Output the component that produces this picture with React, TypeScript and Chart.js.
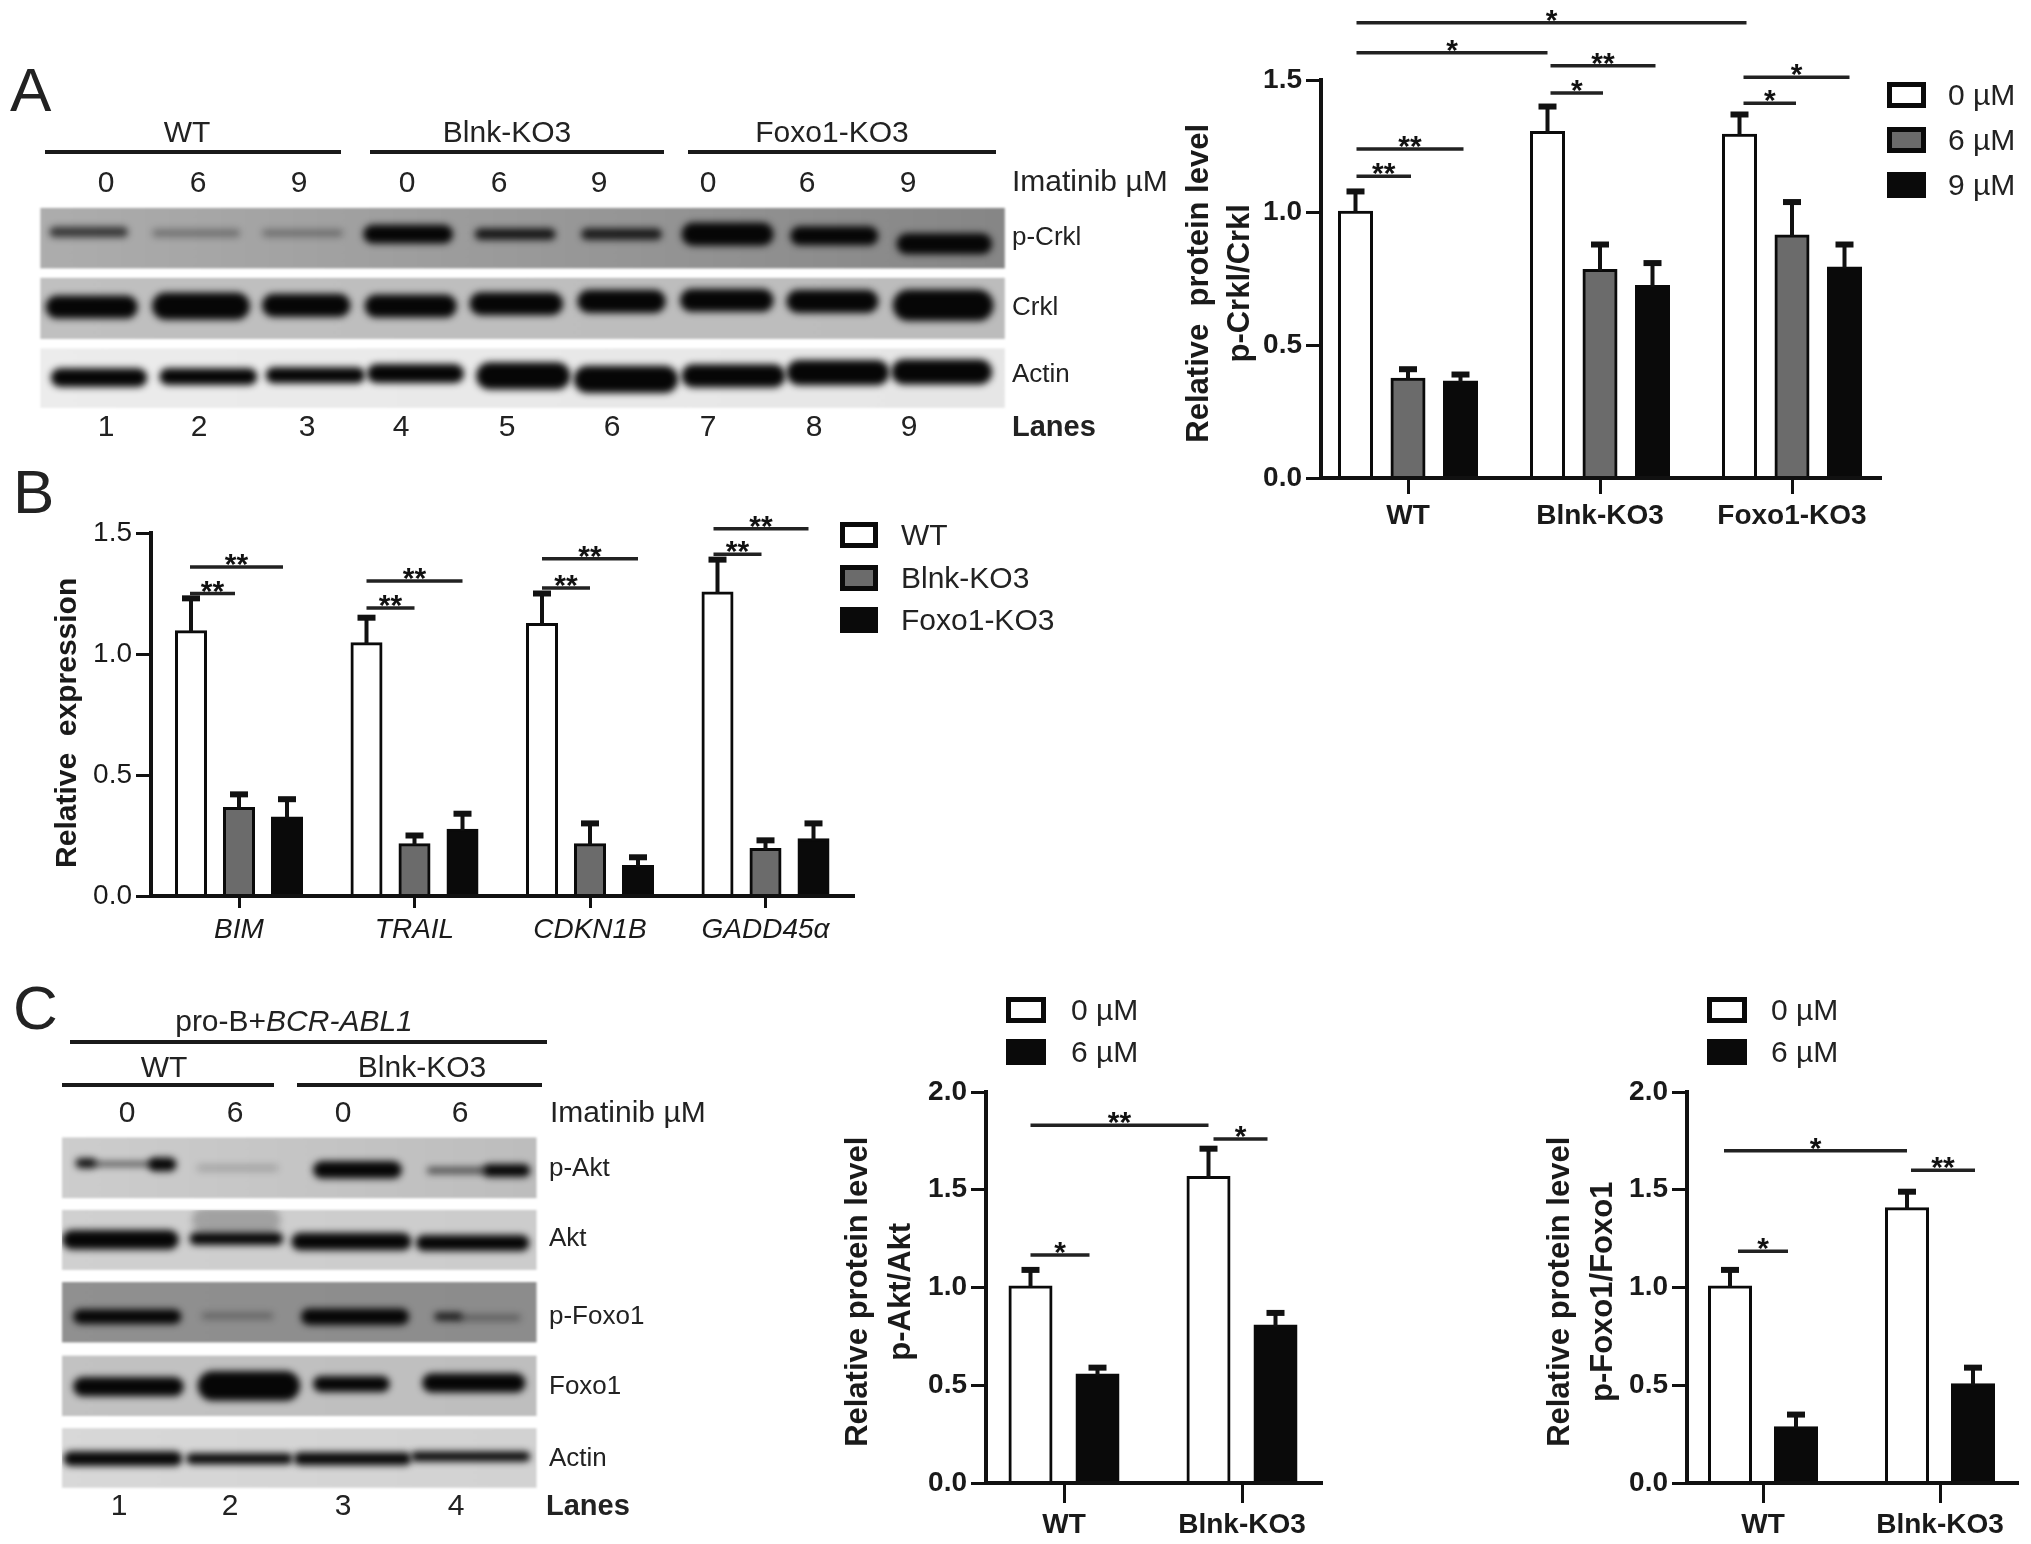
import React, { useEffect, useRef } from "react";
import { Chart, registerables } from "chart.js";

Chart.register(...registerables);

const FONT = '"Liberation Sans", Arial, sans-serif';
Chart.defaults.font.family = FONT;

// ---------- Panel A chart data ----------
const aCategories = ["WT", "Blnk-KO3", "Foxo1-KO3"];
const aDoses = ["0 µM", "6 µM", "9 µM"];
const aValues0 = [1.0, 1.3, 1.29];
const aValues6 = [0.37, 0.78, 0.91];
const aValues9 = [0.36, 0.72, 0.79];
const aErrors0 = [0.08, 0.1, 0.08];
const aErrors6 = [0.04, 0.1, 0.13];
const aErrors9 = [0.03, 0.09, 0.09];
const aBrackets: [number, number, number, number, number, string][] = [
  [0, 0, 2, 0, 1.716, "*"],
  [0, 0, 1, 0, 1.603, "*"],
  [1, 0, 1, 2, 1.554, "**"],
  [1, 0, 1, 1, 1.451, "*"],
  [2, 0, 2, 2, 1.51, "*"],
  [2, 0, 2, 1, 1.412, "*"],
  [0, 0, 0, 2, 1.24, "**"],
  [0, 0, 0, 1, 1.137, "**"],
];
const aBracketStart = [1, 1, 3, 3, 4, 4, 1, 1];
const aBracketEnd = [-7, 0, -3, -3, -5, -4, -3, -3];

// ---------- Panel B chart data ----------
const bCategories = ["BIM", "TRAIL", "CDKN1B", "GADD45α"];
const bGroups = ["WT", "Blnk-KO3", "Foxo1-KO3"];
const bValuesWT = [1.09, 1.04, 1.12, 1.25];
const bValuesBlnk = [0.36, 0.21, 0.21, 0.19];
const bValuesFoxo = [0.32, 0.27, 0.12, 0.23];
const bErrorsWT = [0.14, 0.11, 0.13, 0.14];
const bErrorsBlnk = [0.06, 0.04, 0.09, 0.04];
const bErrorsFoxo = [0.08, 0.07, 0.04, 0.07];
const bBrackets: [number, number, number, number, number, string][] = [
  [0, 0, 0, 2, 1.36, "**"],
  [0, 0, 0, 1, 1.25, "**"],
  [1, 0, 1, 2, 1.302, "**"],
  [1, 0, 1, 1, 1.19, "**"],
  [2, 0, 2, 2, 1.394, "**"],
  [2, 0, 2, 1, 1.273, "**"],
  [3, 0, 3, 2, 1.518, "**"],
  [3, 0, 3, 1, 1.412, "**"],
];
const bBracketStart = [-1, -1, 0, 0, 0, 0, -4, -4];
const bBracketEnd = [4, 4, 0, 0, 0, 0, 5, 4];

// ---------- Panel C chart data ----------
const cCategories = ["WT", "Blnk-KO3"];
const cDoses = ["0 µM", "6 µM"];
const c1Values0 = [1.0, 1.56];
const c1Values6 = [0.55, 0.8];
const c1Errors0 = [0.09, 0.15];
const c1Errors6 = [0.04, 0.07];
const c1Brackets: [number, number, number, number, number, string][] = [
  [0, 0, 1, 0, 1.83, "**"],
  [1, 0, 1, 1, 1.76, "*"],
  [0, 0, 0, 1, 1.166, "*"],
];
const c1BracketStart = [0, 5, 0];
const c1BracketEnd = [0, 8, 8];
const c2Values0 = [1.0, 1.4];
const c2Values6 = [0.28, 0.5];
const c2Errors0 = [0.09, 0.09];
const c2Errors6 = [0.07, 0.09];
const c2Brackets: [number, number, number, number, number, string][] = [
  [0, 0, 1, 0, 1.7, "*"],
  [1, 0, 1, 1, 1.6, "**"],
  [0, 0, 0, 1, 1.185, "*"],
];
const c2BracketStart = [-6, 4, 8];
const c2BracketEnd = [0, -2, 8];

const WHITE = "#ffffff";
const GRAY = "#6b6b6b";
const BLACK = "#0a0a0a";
const INK = "#111111";

type PanelProps = {
  categories: string[];
  seriesNames: string[];
  series: number[][];
  errors: number[][];
  colors: string[];
  brackets: [number, number, number, number, number, string][];
  bracketStart: number[];
  bracketEnd: number[];
  yMax: number;
  titleLines: string[];
  titleSize: number;
  titleX: number;
  titleLineHeight: number;
  axisX: number;
  rightX: number;
  topY: number;
  zeroY: number;
  firstTickX: number;
  tickStepX: number;
  barSpacing: number;
  barWidth: number;
  tickBold: boolean;
  catItalic: boolean;
  catBold: boolean;
  canvasTop: number;
  xTick: number;
};

function BarPanel(p: PanelProps) {
  const ref = useRef<HTMLCanvasElement>(null);
  const lh = p.titleLineHeight;
  const left = Math.round(p.titleX - lh / 2);
  const width = p.rightX + 4 - left;
  const height = p.zeroY + 60 - p.canvasTop;

  useEffect(() => {
    const overlay = {
      id: "overlay",
      afterDatasetsDraw(chart: any) {
        const ctx = chart.ctx;
        const yS = chart.scales.y;
        ctx.save();
        ctx.strokeStyle = INK;
        p.series.forEach((vals, s) => {
          const meta = chart.getDatasetMeta(s);
          vals.forEach((v, i) => {
            const x = meta.data[i].x;
            const y0 = yS.getPixelForValue(v);
            const y1 = yS.getPixelForValue(v + p.errors[s][i]);
            ctx.lineWidth = 4;
            ctx.beginPath();
            ctx.moveTo(x, y0);
            ctx.lineTo(x, y1);
            ctx.stroke();
            ctx.lineWidth = 6;
            ctx.beginPath();
            ctx.moveTo(x - 9, y1);
            ctx.lineTo(x + 9, y1);
            ctx.stroke();
          });
        });
        p.brackets.forEach(([g1, s1, g2, s2, val, label], k) => {
          const xa = chart.getDatasetMeta(s1).data[g1].x + p.bracketStart[k];
          const xb = chart.getDatasetMeta(s2).data[g2].x - p.bracketEnd[k];
          const y = yS.getPixelForValue(val);
          ctx.strokeStyle = "#222222";
          ctx.lineWidth = 3.5;
          ctx.beginPath();
          ctx.moveTo(xa, y);
          ctx.lineTo(xb, y);
          ctx.stroke();
          ctx.fillStyle = INK;
          ctx.font = `bold 30px ${FONT}`;
          ctx.textAlign = "center";
          ctx.textBaseline = "alphabetic";
          ctx.fillText(label, (xa + xb) / 2, y + 7);
        });
        ctx.restore();
      },
    };

    const chart = new Chart(ref.current as HTMLCanvasElement, {
      type: "bar",
      data: {
        datasets: p.series.map((vals, s) => ({
          label: p.seriesNames[s],
          data: vals.map((v, i) => ({ x: i, y: v })),
          backgroundColor: p.colors[s],
          borderColor: BLACK,
          borderWidth: 3,
          inflateAmount: 2,
          borderSkipped: "bottom",
          categoryPercentage: (p.series.length * p.barSpacing) / p.tickStepX,
          barPercentage: (p.barWidth - 4) / p.barSpacing,
        })),
      },
      plugins: [overlay],
      options: {
        animation: false,
        responsive: false,
        maintainAspectRatio: false,
        devicePixelRatio: 1,
        layout: { padding: { top: p.topY - p.canvasTop, right: 4, left: 0, bottom: 0 } },
        plugins: { legend: { display: false }, tooltip: { enabled: false }, title: { display: false } },
        scales: {
          x: {
            type: "linear",
            offset: false,
            min: (p.axisX - p.firstTickX) / p.tickStepX,
            max: (p.rightX - p.firstTickX) / p.tickStepX,
            afterBuildTicks(scale: any) {
              scale.ticks = p.categories.map((_, i) => ({ value: i }));
            },
            afterFit(scale: any) {
              scale.height = 60;
            },
            grid: {
              display: true,
              offset: false,
              drawOnChartArea: false,
              drawTicks: true,
              tickLength: p.xTick,
              tickWidth: 3,
              color: INK,
            },
            border: { display: true, color: INK, width: 4, z: 1 },
            ticks: {
              autoSkip: false,
              maxRotation: 0,
              minRotation: 0,
              padding: 5,
              color: "#1a1a1a",
              font: {
                size: 28,
                style: p.catItalic ? "italic" : "normal",
                weight: p.catBold ? "bold" : "normal",
              },
              callback: (v: any) => p.categories[v],
            },
          },
          y: {
            type: "linear",
            min: 0,
            max: p.yMax,
            afterFit(scale: any) {
              scale.width = p.axisX - left;
            },
            grid: {
              display: true,
              drawOnChartArea: false,
              drawTicks: true,
              tickLength: 15,
              tickWidth: 3,
              color: INK,
            },
            border: { display: true, color: INK, width: 4 },
            title: {
              display: true,
              text: p.titleLines,
              color: "#1a1a1a",
              padding: 0,
              font: { size: p.titleSize, weight: "bold", lineHeight: lh / p.titleSize },
            },
            ticks: {
              stepSize: 0.5,
              padding: 4,
              color: "#1a1a1a",
              font: { size: 28, weight: p.tickBold ? "bold" : "normal" },
              callback: (v: any) => Number(v).toFixed(1),
            },
          },
        },
      } as any,
    });
    return () => chart.destroy();
  }, []);

  return (
    <canvas
      ref={ref}
      width={width}
      height={height}
      style={{ position: "absolute", left, top: p.canvasTop, width, height }}
    />
  );
}

// ---------- Blot images: each strip is [x0, y0, x1, y1, left gray, right gray] ----------
// each band is [x0, x1, y centre, thickness, darkness], in the strip's own grid
type Strip = [number, number, number, number, string, string];
type Band = [number, number, number, number, number];

const aStrips: Strip[] = [
  [55, 470, 1370, 650, "#adadad", "#868686"],
  [55, 678, 1370, 860, "#c0c0c0", "#bcbcbc"],
  [55, 888, 1370, 1065, "#ececec", "#e6e6e6"],
];
const aBands: Band[] = [
  [70, 172, 542, 25, 0.7], [210, 325, 545, 20, 0.32], [360, 465, 545, 18, 0.32],
  [498, 615, 548, 45, 1], [650, 755, 548, 28, 0.88], [795, 900, 548, 28, 0.85],
  [932, 1052, 548, 55, 1], [1080, 1195, 553, 45, 1], [1225, 1350, 577, 50, 1],
  [65, 185, 765, 55, 1], [210, 338, 762, 65, 1], [360, 475, 760, 55, 1],
  [500, 620, 762, 55, 1], [643, 765, 755, 55, 1], [790, 905, 748, 55, 1],
  [930, 1052, 745, 55, 1], [1075, 1195, 748, 55, 1], [1220, 1352, 760, 75, 1],
  [72, 198, 975, 45, 1], [220, 348, 972, 40, 1], [365, 495, 968, 38, 1],
  [503, 630, 963, 45, 1], [652, 775, 970, 65, 1], [785, 922, 980, 65, 1],
  [932, 1068, 970, 55, 1], [1075, 1210, 960, 60, 1], [1218, 1350, 958, 60, 1],
];
const cStrips: Strip[] = [
  [128, 455, 1107, 620, "#cdcdcd", "#bdbdbd"],
  [128, 652, 1107, 815, "#d0d0d0", "#cccccc"],
  [128, 848, 1107, 1012, "#909090", "#8c8c8c"],
  [128, 1048, 1107, 1212, "#c2c2c2", "#bebebe"],
  [128, 1245, 1107, 1407, "#d8d8d8", "#d2d2d2"],
];
const cBands: Band[] = [
  [160, 195, 525, 22, 0.95], [195, 320, 527, 10, 0.7], [310, 360, 528, 30, 1],
  [410, 570, 538, 15, 0.18], [650, 825, 543, 38, 1], [885, 1000, 545, 15, 0.6], [1000, 1090, 545, 28, 1],
  [400, 575, 680, 55, 0.22],
  [132, 365, 733, 42, 1], [395, 580, 730, 28, 1], [605, 845, 738, 38, 1], [862, 1088, 742, 35, 1],
  [155, 370, 942, 32, 1], [420, 560, 940, 15, 0.3], [625, 840, 942, 36, 1], [900, 950, 942, 18, 0.85], [950, 1070, 945, 14, 0.35],
  [155, 375, 1132, 42, 1], [412, 615, 1130, 65, 1], [650, 800, 1125, 35, 1], [875, 1080, 1122, 42, 1],
  [135, 372, 1328, 32, 1], [388, 600, 1328, 24, 1], [610, 845, 1328, 28, 1], [852, 1090, 1322, 22, 1],
];

// header rules of the blots: [x0, x1, y]
const aRules = [[45, 341, 152], [370, 664, 152], [688, 996, 152]];
const cRules = [[70, 547, 1042], [62, 274, 1085], [297, 542, 1085]];

function Blots() {
  const ref = useRef<HTMLCanvasElement>(null);
  useEffect(() => {
    const ctx = (ref.current as HTMLCanvasElement).getContext("2d") as CanvasRenderingContext2D;
    const draw = (strips: Strip[], bands: Band[], sx: number, sy: number, oy: number) => {
      strips.forEach(([x0, y0, x1, y1, c0, c1]) => {
        const X0 = x0 * sx, X1 = x1 * sx, Y0 = oy + y0 * sy, Y1 = oy + y1 * sy;
        const g = ctx.createLinearGradient(X0, 0, X1, 0);
        g.addColorStop(0, c0);
        g.addColorStop(1, c1);
        ctx.save();
        ctx.filter = "blur(1px)";
        ctx.fillStyle = g;
        ctx.fillRect(X0, Y0, X1 - X0, Y1 - Y0);
        ctx.restore();
        ctx.save();
        ctx.beginPath();
        ctx.rect(X0, Y0, X1 - X0, Y1 - Y0);
        ctx.clip();
        ctx.filter = "blur(3.5px)";
        bands
          .filter((b) => b[2] > y0 && b[2] < y1)
          .forEach(([a, b, yc, t, d]) => {
            const h = t * sy * 1.25;
            ctx.fillStyle = `rgba(6,6,6,${d})`;
            ctx.beginPath();
            ctx.roundRect(a * sx - 2, oy + yc * sy - h / 2, (b - a) * sx + 4, h, h / 2);
            ctx.fill();
          });
        ctx.restore();
      });
    };
    draw(aStrips, aBands, 1150 / 1568, 0.336, 50);
    draw(cStrips, cBands, 760 / 1568, 0.368, 970);
    ctx.strokeStyle = "#1a1a1a";
    ctx.lineWidth = 4;
    [...aRules, ...cRules].forEach(([a, b, y]) => {
      ctx.beginPath();
      ctx.moveTo(a, y);
      ctx.lineTo(b, y);
      ctx.stroke();
    });
  }, []);
  return (
    <canvas ref={ref} width={2031} height={1544} style={{ position: "absolute", left: 0, top: 0 }} />
  );
}

// ---------- Text ----------
type TextProps = {
  x: number;
  y: number;
  size?: number;
  bold?: boolean;
  center?: boolean;
  children: React.ReactNode;
};
function T({ x, y, size = 30, bold, center, children }: TextProps) {
  return (
    <div
      style={{
        position: "absolute",
        left: x,
        top: y,
        transform: `translate(${center ? "-50%" : "0"}, -50%)`,
        font: `${bold ? "bold " : ""}${size}px ${FONT}`,
        color: "#222",
        whiteSpace: "nowrap",
        lineHeight: 1,
      }}
    >
      {children}
    </div>
  );
}

const aHeaders = ["WT", "Blnk-KO3", "Foxo1-KO3"];
const aHeaderX = [187, 507, 832];
const aDoseLabels = ["0", "6", "9", "0", "6", "9", "0", "6", "9"];
const aDoseX = [106, 198, 299, 407, 499, 599, 708, 807, 908];
const aLaneLabels = ["1", "2", "3", "4", "5", "6", "7", "8", "9"];
const aLaneX = [106, 199, 307, 401, 507, 612, 708, 814, 909];
const aBlotNames = ["p-Crkl", "Crkl", "Actin"];
const aBlotY = [236, 306, 373];

const cDoseLabels = ["0", "6", "0", "6"];
const cDoseX = [127, 235, 343, 460];
const cLaneLabels = ["1", "2", "3", "4"];
const cLaneX = [119, 230, 343, 456];
const cBlotNames = ["p-Akt", "Akt", "p-Foxo1", "Foxo1", "Actin"];
const cBlotY = [1167, 1237, 1315, 1385, 1457];

type LegendProps = {
  x: number;
  textX: number;
  w: number;
  h: number;
  ys: number[];
  names: string[];
  colors: string[];
};
function Legend({ x, textX, w, h, ys, names, colors }: LegendProps) {
  return (
    <>
      {names.map((n, i) => (
        <React.Fragment key={n}>
          <div
            style={{
              position: "absolute",
              left: x,
              top: ys[i] - h / 2,
              width: w,
              height: h,
              boxSizing: "border-box",
              border: `5px solid ${BLACK}`,
              background: colors[i],
            }}
          />
          <T x={textX} y={ys[i]} size={30}>
            {n}
          </T>
        </React.Fragment>
      ))}
    </>
  );
}

export default function App() {
  return (
    <div style={{ position: "absolute", left: 0, top: 0, width: 2031, height: 1544, overflow: "hidden", background: "#fff" }}>
      <Blots />

      <T x={10} y={90} size={62}>A</T>
      <T x={13} y={492} size={62}>B</T>
      <T x={13} y={1008} size={62}>C</T>

      {aHeaders.map((h, i) => (
        <T key={h} x={aHeaderX[i]} y={132} center>{h}</T>
      ))}
      {aDoseLabels.map((d, i) => (
        <T key={i} x={aDoseX[i]} y={182} center>{d}</T>
      ))}
      <T x={1012} y={181}>Imatinib µM</T>
      {aBlotNames.map((n, i) => (
        <T key={n} x={1012} y={aBlotY[i]} size={26}>{n}</T>
      ))}
      {aLaneLabels.map((d, i) => (
        <T key={i} x={aLaneX[i]} y={426} center>{d}</T>
      ))}
      <T x={1012} y={426} bold size={29}>Lanes</T>

      <T x={294} y={1021} center>
        pro-B+<i>BCR-ABL1</i>
      </T>
      <T x={164} y={1067} center>WT</T>
      <T x={422} y={1067} center>Blnk-KO3</T>
      {cDoseLabels.map((d, i) => (
        <T key={i} x={cDoseX[i]} y={1112} center>{d}</T>
      ))}
      <T x={550} y={1112}>Imatinib µM</T>
      {cBlotNames.map((n, i) => (
        <T key={n} x={549} y={cBlotY[i]} size={26}>{n}</T>
      ))}
      {cLaneLabels.map((d, i) => (
        <T key={i} x={cLaneX[i]} y={1505} center>{d}</T>
      ))}
      <T x={546} y={1505} bold size={29}>Lanes</T>

      <BarPanel
        categories={aCategories}
        seriesNames={aDoses}
        series={[aValues0, aValues6, aValues9]}
        errors={[aErrors0, aErrors6, aErrors9]}
        colors={[WHITE, GRAY, BLACK]}
        brackets={aBrackets}
        bracketStart={aBracketStart}
        bracketEnd={aBracketEnd}
        yMax={1.5}
        titleLines={["Relative  protein level ", "p-Crkl/Crkl "]}
        titleSize={31}
        titleX={1199}
        titleLineHeight={41}
        axisX={1321}
        rightX={1881}
        topY={80}
        zeroY={478}
        firstTickX={1408}
        tickStepX={192}
        barSpacing={52.5}
        barWidth={35}
        tickBold
        catItalic={false}
        catBold
        canvasTop={0}
        xTick={16}
      />
      <Legend x={1887} textX={1948} w={39} h={26} ys={[95, 140, 185]} names={aDoses} colors={[WHITE, GRAY, BLACK]} />

      <BarPanel
        categories={bCategories}
        seriesNames={bGroups}
        series={[bValuesWT, bValuesBlnk, bValuesFoxo]}
        errors={[bErrorsWT, bErrorsBlnk, bErrorsFoxo]}
        colors={[WHITE, GRAY, BLACK]}
        brackets={bBrackets}
        bracketStart={bBracketStart}
        bracketEnd={bBracketEnd}
        yMax={1.5}
        titleLines={["Relative  expression  "]}
        titleSize={30}
        titleX={68}
        titleLineHeight={36}
        axisX={151}
        rightX={854}
        topY={533}
        zeroY={896}
        firstTickX={239}
        tickStepX={175.5}
        barSpacing={48}
        barWidth={32}
        tickBold={false}
        catItalic
        catBold={false}
        canvasTop={490}
        xTick={12}
      />
      <Legend x={840} textX={901} w={38} h={26} ys={[535, 578, 620]} names={bGroups} colors={[WHITE, GRAY, BLACK]} />

      <BarPanel
        categories={cCategories}
        seriesNames={cDoses}
        series={[c1Values0, c1Values6]}
        errors={[c1Errors0, c1Errors6]}
        colors={[WHITE, BLACK]}
        brackets={c1Brackets}
        bracketStart={c1BracketStart}
        bracketEnd={c1BracketEnd}
        yMax={2}
        titleLines={["Relative protein level ", "p-Akt/Akt "]}
        titleSize={31}
        titleX={858}
        titleLineHeight={43}
        axisX={986}
        rightX={1322}
        topY={1092}
        zeroY={1483}
        firstTickX={1064}
        tickStepX={178}
        barSpacing={67}
        barWidth={44}
        tickBold
        catItalic={false}
        catBold
        canvasTop={1060}
        xTick={20}
      />
      <Legend x={1006} textX={1071} w={40} h={26} ys={[1010, 1052]} names={cDoses} colors={[WHITE, BLACK]} />

      <BarPanel
        categories={cCategories}
        seriesNames={cDoses}
        series={[c2Values0, c2Values6]}
        errors={[c2Errors0, c2Errors6]}
        colors={[WHITE, BLACK]}
        brackets={c2Brackets}
        bracketStart={c2BracketStart}
        bracketEnd={c2BracketEnd}
        yMax={2}
        titleLines={["Relative protein level ", "p-Foxo1/Foxo1 "]}
        titleSize={31}
        titleX={1560}
        titleLineHeight={43}
        axisX={1687}
        rightX={2018}
        topY={1092}
        zeroY={1483}
        firstTickX={1763}
        tickStepX={177}
        barSpacing={66}
        barWidth={44}
        tickBold
        catItalic={false}
        catBold
        canvasTop={1060}
        xTick={20}
      />
      <Legend x={1707} textX={1771} w={40} h={26} ys={[1010, 1052]} names={cDoses} colors={[WHITE, BLACK]} />
    </div>
  );
}
